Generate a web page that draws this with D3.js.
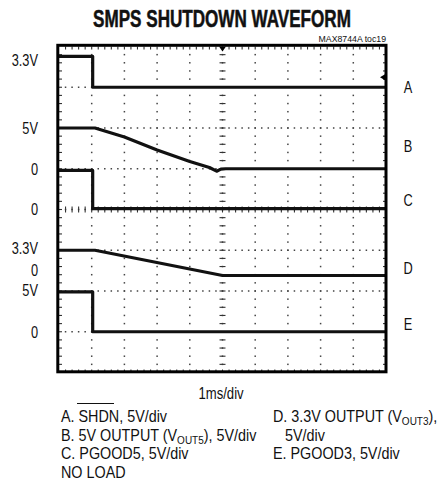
<!DOCTYPE html>
<html><head><meta charset="utf-8">
<script src="https://cdn.jsdelivr.net/npm/d3@7"></script>
<style>
html,body{margin:0;padding:0;background:#fff;}
svg{display:block;}
text{font-family:"Liberation Sans",Arial,sans-serif;fill:#111;}
</style></head>
<body>
<svg id="c" width="445" height="495"></svg>
<script>
// ---- data (time in ms, value in volts) ----
const title = "SMPS SHUTDOWN WAVEFORM";
const figId = "MAX8744A toc19";
const xDivisions = 10, yDivisions = 8;
const timeLabel = "1ms/div";

const chA_t = [0, 1.03, 1.03, 10];
const chA_v = [3.8, 3.8, 0, 0];
const chB_t = [0, 1.1, 1.5, 2.0, 3.0, 4.0, 4.6, 4.82, 4.95, 5.1, 10];
const chB_v = [5.0, 5.0, 4.5, 3.9, 2.3, 0.9, 0.15, -0.3, -0.05, 0, 0];
const chC_t = [0, 1.03, 1.03, 10];
const chC_v = [4.8, 4.8, 0.1, 0.1];
const chD_t = [0, 1.1, 5.0, 10];
const chD_v = [3.1, 3.1, 0, 0];
const chE_t = [0, 1.03, 1.03, 10];
const chE_v = [4.9, 4.9, 0, 0];

const channelNames = ["A", "B", "C", "D", "E"];
const voltsPerDiv = 5;
const leftLabels = ["3.3V", "5V", "0", "0", "3.3V", "0", "5V", "0"];
const legendLeft = ["A. SHDN, 5V/div", "B. 5V OUTPUT (VOUT5), 5V/div", "C. PGOOD5, 5V/div", "NO LOAD"];
const legendRight = ["D. 3.3V OUTPUT (VOUT3),", "5V/div", "E. PGOOD3, 5V/div"];

// ---- layout ----
const svg = d3.select("#c");
const X0 = 59, X1 = 386, Y0 = 46.5, Y1 = 372.5;
const x = d3.scaleLinear().domain([0, xDivisions]).range([X0, X1]);
const yd = d3.scaleLinear().domain([yDivisions / 2, -yDivisions / 2]).range([Y0, Y1]); // divisions, + up

const chOffset = {A: 3, B: 1, C: 0, D: -1.62, E: -3};
const series = [
  {n: "A", t: chA_t, v: chA_v},
  {n: "B", t: chB_t, v: chB_v},
  {n: "C", t: chC_t, v: chC_v},
  {n: "D", t: chD_t, v: chD_v},
  {n: "E", t: chE_t, v: chE_v}
];

const SX = 0.8; // horizontal condensing of the narrow typeface
function ctext(xp, yp, fs, anchor, sx) {
  return svg.append("text")
    .attr("transform", `translate(${xp},${yp}) scale(${sx || SX},1)`)
    .attr("dy", "0.35em").attr("font-size", fs).attr("text-anchor", anchor || "start");
}

// title (condensed to the reference width)
const tt = svg.append("text").attr("text-anchor", "middle")
  .attr("font-size", 23).attr("font-weight", "bold").attr("stroke", "#111").attr("stroke-width", 0.5)
  .text(title);
const tw = tt.node().getComputedTextLength() || 330;
tt.attr("transform", `translate(222,26.5) scale(${258 / tw},1)`);
ctext(386, 39, 9.5, "end", 0.92).text(figId);

// grid dots
const g = svg.append("g");
const dots = [];
for (let i = 1; i < yDivisions; i++) {
  const yy = yd(yDivisions / 2 - i);
  for (let k = 1; k < xDivisions * 5; k++) dots.push([x(k / 5), yy]);
}
for (let j = 1; j < xDivisions; j++) {
  const xx = x(j);
  for (let k = 1; k < yDivisions * 5; k++) dots.push([xx, yd(yDivisions / 2 - k / 5)]);
}
g.selectAll("rect.dot").data(dots).enter().append("rect")
  .attr("x", d => d[0] - 0.75).attr("y", d => d[1] - 0.75)
  .attr("width", 1.5).attr("height", 1.5).attr("fill", "#444");

// centre axis ticks and border ticks
const ticks = svg.append("g").attr("stroke", "#333").attr("stroke-width", 1.1);
for (let k = 1; k < yDivisions * 5; k++) {
  const yy = yd(yDivisions / 2 - k / 5);
  ticks.append("line").attr("x1", x(5) - 3).attr("x2", x(5) + 3).attr("y1", yy).attr("y2", yy);
  ticks.append("line").attr("x1", X0).attr("x2", X0 + 3).attr("y1", yy).attr("y2", yy);
  ticks.append("line").attr("x1", X1 - 3).attr("x2", X1).attr("y1", yy).attr("y2", yy);
}
for (let k = 1; k < xDivisions * 5; k++) {
  const xx = x(k / 5);
  ticks.append("line").attr("x1", xx).attr("x2", xx).attr("y1", yd(0) - 3).attr("y2", yd(0) + 3);
  ticks.append("line").attr("x1", xx).attr("x2", xx).attr("y1", Y0).attr("y2", Y0 + 3);
  ticks.append("line").attr("x1", xx).attr("x2", xx).attr("y1", Y1 - 3).attr("y2", Y1);
}

// traces
const line = d3.line();
series.forEach(s => {
  const pts = s.t.map((t, i) => [x(t), yd(chOffset[s.n] + s.v[i] / voltsPerDiv)]);
  svg.append("path").attr("d", line(pts)).attr("fill", "none")
    .attr("stroke", "#111").attr("stroke-width", 3.2).attr("stroke-linejoin", "round");
});

// frame
svg.append("rect").attr("x", X0 - 1.2).attr("y", Y0 - 1.2)
  .attr("width", X1 - X0 + 1.2).attr("height", Y1 - Y0 + 0.5)
  .attr("fill", "none").attr("stroke", "#000").attr("stroke-width", 3);

// markers
svg.append("path").attr("d", `M${x(5) - 3.5},${Y0} L${x(5) + 3.5},${Y0} L${x(5)},${Y0 + 5} Z`).attr("fill", "#000");
svg.append("path").attr("d", `M${X1 - 1},${yd(chOffset.A) - 13} L${X1 - 1},${yd(chOffset.A) - 7} L${X1 - 6},${yd(chOffset.A) - 10} Z`).attr("fill", "#000");

// left labels
const leftY = [60, 128, 169, 209, 248, 270, 290, 332];
leftLabels.forEach((l, i) => ctext(38, leftY[i], 16, "end").text(l));
// right channel labels
const rightY = [87, 146, 200, 268, 324];
channelNames.forEach((n, i) => ctext(408, rightY[i], 16, "middle").text(n));

// time label
ctext(221, 393, 16, "middle", 0.82).text(timeLabel);

// legend
function legendLine(xp, yp, str) {
  const t = ctext(xp, yp, 16.5, "start", 0.87);
  const m = str.match(/^(.*\(V)(OUT\d)(\).*)$/);
  if (m) {
    t.append("tspan").text(m[1]);
    t.append("tspan").attr("font-size", 11.5).attr("dy", 3).text(m[2]);
    t.append("tspan").attr("dy", -3).text(m[3]);
  } else t.text(str);
  return t;
}
const legY = [416, 435, 453.5, 472];
legendLeft.forEach((s, i) => legendLine(61, legY[i], s));
legendLine(273, legY[0], legendRight[0]);
legendLine(285, legY[1], legendRight[1]);
legendLine(273, legY[2], legendRight[2]);
// overline for SHDN
svg.append("line").attr("x1", 77).attr("x2", 114).attr("y1", 403.5).attr("y2", 403.5)
  .attr("stroke", "#111").attr("stroke-width", 1);
</script>
</body></html>
